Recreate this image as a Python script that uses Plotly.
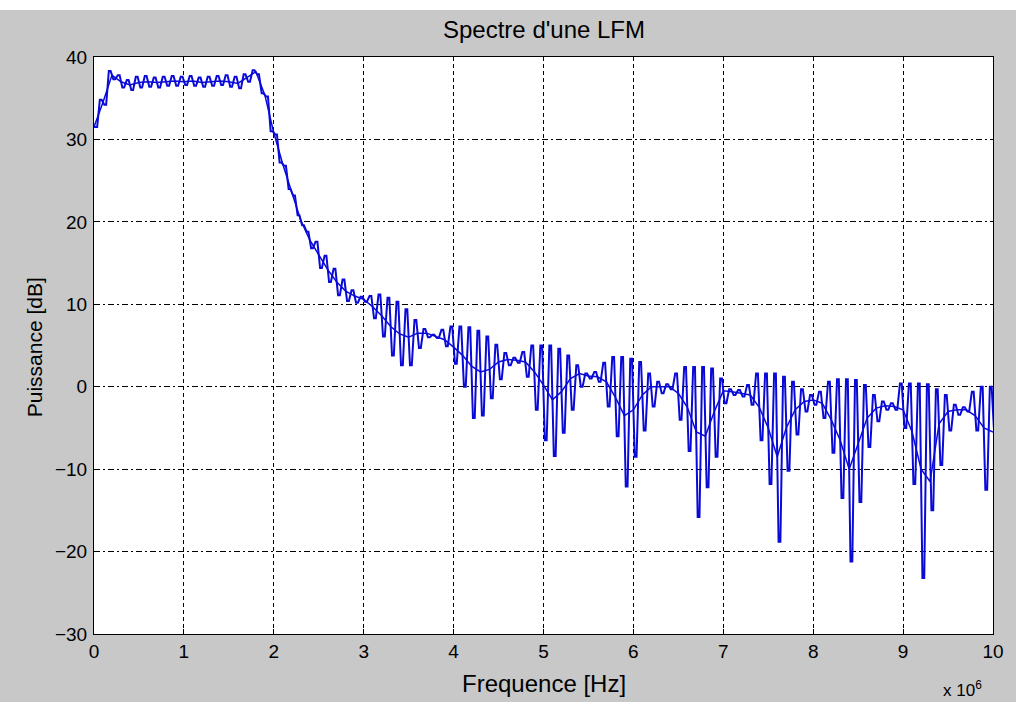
import numpy as np
import plotly.graph_objects as go

# Frequency grid (in units of 1e6 Hz), step 0.1
freq_mhz = [round(0.1 * i, 1) for i in range(101)]

# Upper envelope of the spectrum (dB)
upper_db = [31.5, 34.8, 38.3, 37.8, 37.2, 37.6, 37.7, 37.5, 37.6, 37.7,
            37.6, 37.7, 37.5, 37.6, 37.7, 37.8, 37.6, 37.9, 38.4, 35.6,
            31.0, 27.2, 24.0, 20.8, 18.8, 17.6, 15.9, 14.3, 13.0, 11.7,
            10.9, 11.0, 11.2, 10.8, 10.3, 9.4, 8.1, 7.0, 6.3, 6.9,
            7.3, 7.3, 7.2, 6.8, 6.1, 5.1, 4.1, 3.5, 4.2, 5.0,
            5.0, 5.0, 4.6, 3.8, 2.6, 1.6, 1.8, 2.9, 3.6, 3.6,
            3.4, 3.0, 1.6, 0.6, 0.3, 1.6, 2.4, 2.4, 2.4, 2.2,
            1.0, -0.3, -0.4, 0.2, 1.6, 1.6, 1.6, 1.2, 0.6, -0.3,
            -1.0, -0.6, 0.6, 0.9, 0.9, 0.8, 0.2, -1.0, -1.8, -2.0,
            0.4, 0.4, 0.4, 0.3, -0.3, -1.0, -2.2, -2.5, -0.6, 0.0,
            0.0]

# Central curve of the spectrum (dB)
middle_db = [31.5, 34.5, 37.8, 37.0, 36.6, 36.9, 37.0, 36.9, 37.0, 37.1,
             37.0, 37.1, 36.9, 37.0, 37.1, 37.0, 36.8, 37.5, 38.2, 35.4,
             30.8, 27.0, 23.6, 20.2, 17.8, 16.0, 14.2, 12.7, 11.6, 11.0,
             10.6, 9.7, 8.6, 7.3, 6.4, 6.0, 6.5, 6.5, 6.1, 5.7,
             4.8, 3.8, 2.5, 1.8, 2.1, 3.0, 3.3, 3.2, 3.0, 1.8,
             0.2, -1.6, -0.6, 1.0, 1.6, 1.3, 1.2, 0.6, -1.3, -3.5,
             -2.8, -1.0, 0.0, 0.0, 0.0, -0.8, -2.5, -5.5, -6.0, -3.0,
             -0.5, -0.6, -0.8, -1.0, -2.5, -5.0, -8.5, -5.0, -2.8, -1.8,
             -1.6, -2.0, -4.0, -6.5, -10.0, -7.0, -3.8, -2.6, -2.3, -2.4,
             -2.8, -5.5, -10.0, -11.5, -4.5, -3.0, -2.8, -2.8, -3.5, -5.0,
             -5.5]

# Lower envelope of the spectrum (dB)
lower_db = [31.5, 34.2, 37.3, 36.3, 36.0, 36.3, 36.4, 36.3, 36.5, 36.5,
            36.6, 36.5, 36.4, 36.5, 36.6, 36.4, 36.2, 37.0, 37.9, 35.2,
            30.6, 26.8, 23.2, 19.6, 16.8, 14.4, 12.7, 11.1, 10.4, 10.2,
            10.3, 8.3, 6.1, 3.8, 2.6, 2.6, 4.7, 6.0, 5.9, 4.9,
            2.8, 0.0, -3.8, -3.5, -1.4, 0.9, 2.6, 2.9, 1.2, -2.8,
            -6.5, -8.4, -5.6, -2.8, 0.0, 1.0, 0.6, -2.4, -6.0, -12.1,
            -8.5, -5.3, -2.4, -0.8, -0.3, -4.0, -7.8, -15.8, -12.2, -8.5,
            -2.0, -1.0, -1.2, -2.2, -6.5, -11.8, -18.8, -10.2, -5.8, -3.0,
            -2.2, -3.8, -8.0, -13.5, -21.2, -14.0, -7.3, -4.2, -2.8, -2.8,
            -5.0, -11.8, -23.2, -15.0, -9.5, -5.3, -3.4, -3.0, -5.3, -12.5,
            -6.0]

x_ticks = list(range(0, 11))
y_ticks = [40, 30, 20, 10, 0, -10, -20, -30]

# Build the oscillating (alternating upper/lower) line from the arrays:
# short flat caps at the top and bottom, near-vertical strokes between them
outer, inner = 0.035, 0.015
osc_x, osc_y = [], []
for f, hi, lo in zip(freq_mhz, upper_db, lower_db):
    osc_x += [f - outer, f - inner, f + inner, f + outer]
    osc_y += [hi, hi, lo, lo]

blue = "#0a0ad8"
fig = go.Figure()
fig.add_trace(go.Scatter(x=osc_x, y=osc_y, mode="lines",
                         line=dict(color=blue, width=2.0),
                         showlegend=False, hoverinfo="skip"))
fig.add_trace(go.Scatter(x=freq_mhz, y=middle_db, mode="lines",
                         line=dict(color=blue, width=1.5), showlegend=False))

font = "Liberation Sans, Arial, sans-serif"
axis_common = dict(showline=True, mirror=True, linecolor="black", linewidth=1,
                   ticks="inside", ticklen=5, tickcolor="black",
                   showgrid=True, gridcolor="black", gridwidth=1,
                   zeroline=False, tickfont=dict(family=font, size=19, color="black"))

fig.update_xaxes(range=[0, 10], tickvals=x_ticks, griddash="4px,3px", **axis_common)
fig.update_yaxes(range=[-30, 40], tickvals=y_ticks, griddash="6px,3px,2px,3px",
                 ticklabelstandoff=2, **axis_common)

L, R, T, B = 94, 19, 57, 68
W, H = 1016, 702
ph = H - T - B
pw = W - L - R

def py(pix):
    return (H - B - pix) / ph

def px(pix):
    return (pix - L) / pw

fig.update_layout(
    width=W, height=H,
    margin=dict(l=L, r=R, t=T, b=B),
    paper_bgcolor="#c8c8c8", plot_bgcolor="white",
    font=dict(family=font, size=19, color="black"),
    showlegend=False,
    shapes=[dict(type="rect", xref="paper", yref="paper",
                 x0=-0.2, x1=1.1, y0=py(10), y1=py(-20),
                 fillcolor="white", line=dict(width=0), layer="above")],
    annotations=[
        dict(text="Spectre d'une LFM", xref="paper", yref="paper",
             x=0.5, y=py(30), xanchor="center", yanchor="middle",
             showarrow=False, font=dict(family=font, size=24)),
        dict(text="Frequence [Hz]", xref="paper", yref="paper",
             x=0.5, y=py(683), xanchor="center", yanchor="middle",
             showarrow=False, font=dict(family=font, size=24)),
        dict(text="Puissance [dB]", xref="paper", yref="paper",
             x=px(34), y=py(347), xanchor="center", yanchor="middle",
             textangle=-90, showarrow=False, font=dict(family=font, size=21)),
        dict(text="x 10<sup>6</sup>", xref="paper", yref="paper",
             x=px(966), y=py(689), xanchor="center", yanchor="middle",
             showarrow=False, font=dict(family=font, size=17)),
    ],
)

fig.write_html("out.html")
